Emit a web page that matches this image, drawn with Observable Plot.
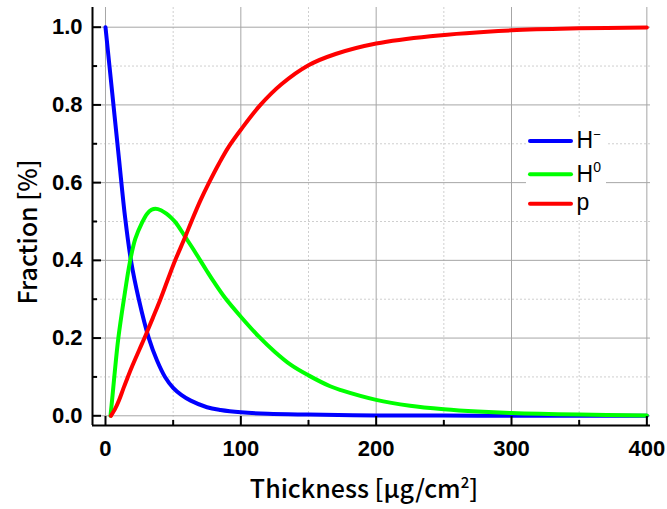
<!DOCTYPE html>
<html><head><meta charset="utf-8">
<script src="https://cdn.jsdelivr.net/npm/d3@7"></script>
<script src="https://cdn.jsdelivr.net/npm/@observablehq/plot@0.6"></script>
<style>
html,body{margin:0;padding:0;background:#fff;}
#chart{position:relative;width:667px;height:509px;}
</style></head><body><div id="chart"></div>
<script>
// ---- data ----
const seriesNames = ["H−", "H0", "p"];
const seriesColors = ["#0000ff", "#00ff00", "#ff0000"];

const hMinusT = [0, 5, 10, 14.5, 18.8, 24.6, 32, 38, 44, 50, 56, 63, 75, 85, 100, 120, 150, 200, 250, 300, 350, 400];
const hMinusV = [1.0, 0.83, 0.66, 0.51, 0.4, 0.3, 0.2, 0.143, 0.1, 0.072, 0.054, 0.039, 0.022, 0.015, 0.009, 0.005, 0.003, 0.001, 0.0005, 0.0002, 0.0001, 0];

const hZeroT = [3.7, 5, 6.5, 9.5, 13.6, 18, 22, 27, 30.8, 34, 37, 41, 45, 49, 52, 59, 65, 70, 75, 80, 88, 100, 113, 125, 137, 150, 166, 174, 200, 225, 250, 275, 300, 350, 400];
const hZeroV = [0, 0.045, 0.1, 0.2, 0.3, 0.395, 0.455, 0.497, 0.52, 0.53, 0.533, 0.529, 0.52, 0.508, 0.497, 0.46, 0.428, 0.4, 0.372, 0.345, 0.305, 0.255, 0.205, 0.165, 0.131, 0.104, 0.076, 0.066, 0.041, 0.026, 0.017, 0.011, 0.007, 0.003, 0.001];

const protonT = [4, 7, 10, 13, 16.5, 20, 25, 30, 35, 40.6, 46, 51.5, 58.6, 63.5, 70, 76.5, 84, 91, 100, 114, 130, 150, 170, 200, 240, 300, 350, 400];
const protonV = [0, 0.017, 0.04, 0.068, 0.1, 0.13, 0.17, 0.21, 0.252, 0.3, 0.35, 0.4, 0.458, 0.5, 0.553, 0.6, 0.65, 0.692, 0.736, 0.798, 0.853, 0.902, 0.931, 0.958, 0.977, 0.992, 0.997, 0.999];

const xMajor = [0, 100, 200, 300, 400];
const xMinor = [50, 150, 250, 350];
const yMajor = [0, 0.2, 0.4, 0.6, 0.8, 1.0];
const yMinor = [0.1, 0.3, 0.5, 0.7, 0.9];
const xTitle = "Thickness [μg/cm";
const yTitle = "Fraction [%]";

// ---- layout ----
const W = 667, H = 509, mL = 92, mR = 17, mT = 7, mB = 84;
const frameW = W - mL - mR, frameH = H - mT - mB;
const xDomain = [-9.6, 402.7], yDomain = [-0.025, 1.0507];

const seriesT = [hMinusT, hZeroT, protonT];
const seriesV = [hMinusV, hZeroV, protonV];
const data = seriesNames.flatMap((name, k) => seriesT[k].map((t, i) => ({t, v: seriesV[k][i], name})));

const tickStyle = {stroke: "black", strokeWidth: 2};
const plot = Plot.plot({
  width: W, height: H,
  marginLeft: mL, marginRight: mR, marginTop: mT, marginBottom: mB,
  x: {domain: xDomain},
  y: {domain: yDomain},
  color: {domain: seriesNames, range: seriesColors},
  style: {fontFamily: "'Liberation Sans', Arial, sans-serif", background: "white", overflow: "visible"},
  marks: [
    Plot.gridX(xMinor, {stroke: "#cfcfcf", strokeOpacity: 1, strokeDasharray: "2,2"}),
    Plot.gridY(yMinor, {stroke: "#cfcfcf", strokeOpacity: 1, strokeDasharray: "2,2"}),
    Plot.gridX(xMajor, {stroke: "#a6a6a6", strokeOpacity: 1}),
    Plot.gridY(yMajor, {stroke: "#a6a6a6", strokeOpacity: 1}),
    Plot.line(data, {x: "t", y: "v", z: "name", stroke: "name", strokeWidth: 4, curve: "catmull-rom", strokeLinecap: "round", strokeLinejoin: "round"}),
    Plot.ruleX([xDomain[0]], tickStyle),
    Plot.ruleY([yDomain[0]], tickStyle),
    Plot.tickX(xMajor, {x: d => d, insetTop: frameH - 9, ...tickStyle}),
    Plot.tickX(xMinor, {x: d => d, insetTop: frameH - 5, ...tickStyle}),
    Plot.tickY(yMajor, {y: d => d, insetRight: frameW - 9, ...tickStyle}),
    Plot.tickY(yMinor, {y: d => d, insetRight: frameW - 5, ...tickStyle}),
    Plot.axisX(xMajor, {tickSize: 0, tickPadding: 15, fontSize: 22, fontWeight: "bold", label: null, tickFormat: d => String(d), fill: "black"}),
    Plot.axisY(yMajor, {tickSize: 0, tickPadding: 10, fontSize: 22, fontWeight: "bold", label: null, tickFormat: d => d.toFixed(1), fill: "black"})
  ]
});
document.getElementById("chart").appendChild(plot);

const svg = d3.select(plot);
const titleFont = "'Noto Sans CJK JP', 'Noto Sans', sans-serif";
// x title
const xt = svg.append("text").attr("x", 364).attr("y", 498).attr("text-anchor", "middle")
  .attr("font-family", titleFont).attr("font-size", 25).attr("font-weight", 500).attr("fill", "black");
xt.append("tspan").text(xTitle);
xt.append("tspan").attr("dy", -10).attr("font-size", 15).text("2");
xt.append("tspan").attr("dy", 10).text("]");
// y title
svg.append("text").attr("transform", "translate(37,232) rotate(-90)").attr("text-anchor", "middle")
  .attr("font-family", titleFont).attr("font-size", 25).attr("font-weight", 500).attr("fill", "black").text(yTitle);

// legend
const lg = svg.append("g");
lg.append("rect").attr("x", 526).attr("y", 117).attr("width", 80).attr("height", 103).attr("fill", "white");
const rows = [{y: 141, base: 148.3}, {y: 174.3, base: 181.7}, {y: 203.7, base: 209.5}];
rows.forEach((r, i) => {
  lg.append("line").attr("x1", 530).attr("x2", 571).attr("y1", r.y).attr("y2", r.y)
    .attr("stroke", seriesColors[i]).attr("stroke-width", 4).attr("stroke-linecap", "round");
  const t = lg.append("text").attr("x", 576.5).attr("y", r.base).attr("text-anchor", "start")
    .attr("font-family", "'Liberation Sans', Arial, sans-serif")
    .attr("font-size", 23).attr("fill", "black");
  if (i === 0) {
    t.append("tspan").text("H");
    t.append("tspan").attr("dx", 0).attr("dy", -9).attr("font-size", 13).text("−");
  } else if (i === 1) {
    t.append("tspan").text("H");
    t.append("tspan").attr("dx", 0).attr("dy", -10).attr("font-size", 14).text("0");
  } else {
    t.append("tspan").text("p");
  }
});
</script>
</body></html>
